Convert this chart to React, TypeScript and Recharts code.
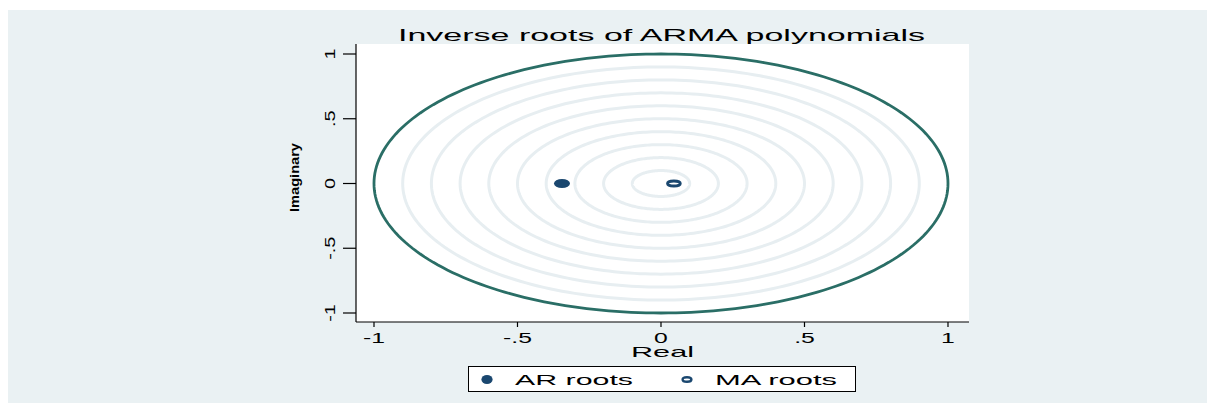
import React from 'react';
import { ComposedChart, Scatter, XAxis, YAxis, CartesianGrid, Legend } from 'recharts';

// ---- text ----
const chartTitle = 'Inverse roots of ARMA polynomials';
const xAxisTitle = 'Real';
const yAxisTitle = 'Imaginary';

// ---- axes ----
const xDomain: [number, number] = [-1.0627, 1.0732];
const yDomain: [number, number] = [-1.0695, 1.0772];
const xTicks = [-1, -0.5, 0, 0.5, 1];
const yTicks = [-1, -0.5, 0, 0.5, 1];
const tickLabels = ['-1', '-.5', '0', '.5', '1'];

// ---- roots (real, imaginary) ----
const arRoots = [{ re: -0.345, im: 0 }];
const maRoots = [{ re: 0.045, im: 0 }];

// ---- reference circles ----
const guideRadii = [0.1, 0.2, 0.3, 0.4, 0.5, 0.6, 0.7, 0.8, 0.9];
const unitRadius = 1;

// ---- colours ----
const panelBg = '#eaf1f3';
const guideColor = '#e7eef1';
const unitColor = '#2a6e66';
const rootColor = '#1a476f';
const font = '"Liberation Sans", Arial, Helvetica, sans-serif';

const STEPS = 240;
const circlePoints = (r: number) =>
  Array.from({ length: STEPS + 1 }, (_, i) => {
    const t = (2 * Math.PI * i) / STEPS;
    return { re: r * Math.cos(t), im: r * Math.sin(t) };
  });

const labelFor = (v: number, ticks: number[]) => {
  const i = ticks.findIndex((t) => Math.abs(t - v) < 1e-9);
  return i >= 0 ? tickLabels[i] : String(v);
};

const XTick = (props: any) => {
  const { x, y, payload } = props;
  return (
    <text
      transform={`translate(${x},${y + 16}) scale(1.65,1)`}
      textAnchor="middle"
      fontFamily={font}
      fontSize={15}
      fill="#000"
    >
      {labelFor(payload.value, xTicks)}
    </text>
  );
};

const YTick = (props: any) => {
  const { x, y, payload } = props;
  return (
    <text
      transform={`translate(${x - 8},${y}) rotate(-90) scale(1.32,1)`}
      textAnchor="middle"
      fontFamily={font}
      fontSize={15}
      fill="#000"
    >
      {labelFor(payload.value, yTicks)}
    </text>
  );
};

const FilledDot = (p: any) => (
  <ellipse cx={p.cx} cy={p.cy} rx={8} ry={4.6} fill={rootColor} />
);
const HollowDot = (p: any) => (
  <ellipse cx={p.cx} cy={p.cy} rx={6.4} ry={2.5} fill="#fff" stroke={rootColor} strokeWidth={2.8} />
);
const NoDot = () => <g />;

const rootSeries = [
  { name: 'AR roots', data: arRoots, hollow: false },
  { name: 'MA roots', data: maRoots, hollow: true },
];

const LegendBox = () => (
  <div
    style={{
      width: 388,
      height: 26,
      border: '1px solid #000',
      background: '#fff',
      boxSizing: 'border-box',
    }}
  >
    <svg width={386} height={24} style={{ display: 'block' }}>
      {rootSeries.map((s, i) => {
        const mx = i === 0 ? 18 : 218;
        const tx = i === 0 ? 46 : 246;
        return (
          <g key={s.name}>
            {s.hollow ? (
              <ellipse cx={mx} cy={12.5} rx={4.4} ry={2.3} fill="#fff" stroke={rootColor} strokeWidth={2.4} />
            ) : (
              <ellipse cx={mx} cy={12.5} rx={5.6} ry={4.5} fill={rootColor} />
            )}
            <text
              x={tx}
              y={18}
              fontFamily={font}
              fontSize={15}
              fill="#000"
              textLength={i === 0 ? 118 : 122}
              lengthAdjust="spacingAndGlyphs"
            >
              {s.name}
            </text>
          </g>
        );
      })}
    </svg>
  </div>
);

export default function App() {
  return (
    <div style={{ width: 1207, height: 393, marginTop: 2, background: panelBg, position: 'relative' }}>
      <ComposedChart
        width={1207}
        height={393}
        margin={{ top: 34, right: 246, bottom: 31, left: 288 }}
      >
        <CartesianGrid horizontal={false} vertical={false} fill="#ffffff" fillOpacity={1} stroke="none" />
        <XAxis
          type="number"
          dataKey="re"
          domain={xDomain}
          ticks={xTicks}
          allowDataOverflow
          height={50}
          tickSize={5}
          tickMargin={0}
          axisLine={{ stroke: '#000', strokeWidth: 1.2 }}
          tickLine={{ stroke: '#000', strokeWidth: 1.2 }}
          tick={<XTick />}
          interval={0}
        />
        <YAxis
          type="number"
          dataKey="im"
          domain={yDomain}
          ticks={yTicks}
          allowDataOverflow
          width={60}
          tickSize={13}
          tickMargin={0}
          axisLine={{ stroke: '#000', strokeWidth: 1.2 }}
          tickLine={{ stroke: '#000', strokeWidth: 1.2 }}
          tick={<YTick />}
          interval={0}
        />
        {guideRadii.map((r) => (
          <Scatter
            key={`guide-${r}`}
            data={circlePoints(r)}
            line={{ stroke: guideColor, strokeWidth: 3 }}
            shape={NoDot}
            fill={guideColor}
            legendType="none"
            isAnimationActive={false}
          />
        ))}
        <Scatter
          data={circlePoints(unitRadius)}
          line={{ stroke: unitColor, strokeWidth: 2.8 }}
          shape={NoDot}
          fill={unitColor}
          legendType="none"
          isAnimationActive={false}
        />
        {rootSeries.map((s) => (
          <Scatter
            key={s.name}
            name={s.name}
            data={s.data}
            fill={rootColor}
            shape={s.hollow ? HollowDot : FilledDot}
            isAnimationActive={false}
          />
        ))}
        <Legend
          verticalAlign="middle"
          align="center"
          layout="horizontal"
          content={() => <LegendBox />}
          wrapperStyle={{ position: 'absolute', left: 460, top: 356, width: 388, height: 26, margin: 0 }}
        />
        <text
          x={653.5}
          y={31}
          textAnchor="middle"
          fontFamily={font}
          fontSize={17}
          fill="#000"
          textLength={527}
          lengthAdjust="spacingAndGlyphs"
        >
          {chartTitle}
        </text>
        <text
          x={654.5}
          y={347}
          textAnchor="middle"
          fontFamily={font}
          fontSize={15}
          fill="#000"
          textLength={63}
          lengthAdjust="spacingAndGlyphs"
        >
          {xAxisTitle}
        </text>
        <text
          transform="translate(291,167.5) rotate(-90)"
          textAnchor="middle"
          fontFamily={font}
          fontSize={13}
          fontWeight="bold"
          fill="#000"
          textLength={69}
          lengthAdjust="spacingAndGlyphs"
        >
          {yAxisTitle}
        </text>
      </ComposedChart>
    </div>
  );
}
